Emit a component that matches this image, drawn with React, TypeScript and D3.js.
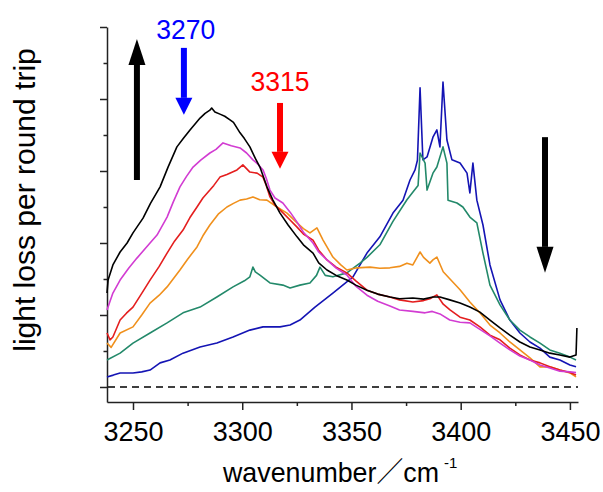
import * as d3 from "d3";
import { useEffect, useRef } from "react";

// wavenumber (cm-1), light loss (one unit = one y tick)
const black: [number, number][] = [
  [3238.1, 2.61], [3238.6, 2.97], [3240.8, 3.39], [3244.1, 3.75], [3247.3, 4.0], [3250, 4.28],
  [3254.6, 4.69], [3258, 5.1], [3262.4, 5.56], [3266, 6.1], [3270.1, 6.67], [3273, 6.9],
  [3276.1, 7.14], [3280.7, 7.47], [3283, 7.6], [3285.2, 7.69], [3286, 7.75], [3287.5, 7.64],
  [3289.8, 7.58], [3292, 7.52], [3294.4, 7.42], [3296, 7.35], [3299, 7.06], [3301, 6.9],
  [3303.5, 6.67], [3306, 6.35], [3308.1, 6.11], [3311.3, 5.56], [3314, 5.2], [3317.3, 4.83],
  [3321, 4.5], [3325.1, 4.17], [3328, 3.95], [3332.4, 3.72], [3335, 3.45], [3338.8, 3.25],
  [3343, 3.1], [3347.9, 2.97], [3352, 2.83], [3357.1, 2.69], [3362, 2.58], [3367.6, 2.5],
  [3372, 2.45], [3378.1, 2.47], [3383, 2.44], [3387.3, 2.5], [3390.5, 2.5], [3395, 2.42],
  [3399.7, 2.33], [3404.2, 2.22], [3408.8, 2.08], [3413.4, 1.86], [3418, 1.64], [3422.5, 1.44],
  [3427.1, 1.25], [3431.7, 1.11], [3436.3, 1.03], [3440.8, 0.94], [3445.4, 0.89], [3450, 0.83],
  [3452.8, 0.89], [3453.2, 1.64],
];

const magenta: [number, number][] = [
  [3238.1, 2.14], [3240.8, 2.61], [3244.1, 2.97], [3248, 3.3], [3251.8, 3.58], [3257.8, 4.0],
  [3261, 4.22], [3265.6, 4.72], [3268.5, 5.15], [3271.5, 5.56], [3274.5, 5.85], [3277.5, 6.11],
  [3281, 6.3], [3285.2, 6.5], [3288, 6.6], [3291.2, 6.78], [3295, 6.7], [3299, 6.64],
  [3302, 6.5], [3304.9, 6.31], [3307, 6.2], [3309.5, 6.03], [3311, 5.8], [3312.7, 5.47],
  [3315, 5.25], [3318.6, 5.11], [3322, 4.85], [3325.1, 4.58], [3328, 4.3], [3332.4, 4.0],
  [3335, 3.75], [3338.8, 3.53], [3343, 3.3], [3347.9, 3.11], [3352, 2.8], [3357.1, 2.55],
  [3362, 2.38], [3367.6, 2.25], [3372, 2.14], [3378.1, 2.1], [3383.7, 2.06], [3387, 2.1],
  [3390.5, 2.03], [3395, 1.86], [3399.7, 1.8], [3404.2, 1.78], [3408.8, 1.6], [3413.4, 1.42],
  [3418, 1.22], [3422.5, 1.03], [3427.1, 0.86], [3431.7, 0.75], [3436.3, 0.61], [3440.8, 0.53],
  [3445.4, 0.44], [3450, 0.42], [3452.8, 0.4],
];

const red: [number, number][] = [
  [3238.1, 1.5], [3239.5, 1.31], [3240.8, 1.39], [3244.1, 1.86], [3247, 2.05], [3250, 2.22],
  [3254, 2.6], [3257.8, 2.97], [3262, 3.35], [3265.6, 3.72], [3269, 4.05], [3272.9, 4.36],
  [3276, 4.7], [3279.3, 5.0], [3282, 5.25], [3285.2, 5.47], [3287, 5.6], [3289.8, 5.83],
  [3293, 5.9], [3297.6, 6.03], [3300.3, 6.17], [3303.5, 5.97], [3306.8, 5.94], [3309.5, 5.83],
  [3311, 5.6], [3312.7, 5.28], [3315, 5.05], [3317.3, 4.92], [3321.9, 4.64], [3325.1, 4.44],
  [3328, 4.25], [3332.4, 4.08], [3335, 3.8], [3338.8, 3.53], [3343, 3.33], [3347.9, 3.17],
  [3352, 2.95], [3357.1, 2.69], [3362, 2.58], [3367.6, 2.5], [3372, 2.42], [3378.1, 2.36],
  [3383, 2.4], [3385.9, 2.45], [3389.1, 2.56], [3392, 2.3], [3395.1, 2.14], [3399.7, 1.94],
  [3404.2, 1.86], [3408.8, 1.67], [3413.4, 1.44], [3418, 1.31], [3422.5, 1.08], [3427.1, 0.89],
  [3431.7, 0.75], [3436.3, 0.67], [3440.8, 0.56], [3445.4, 0.47], [3450, 0.4], [3452.8, 0.33],
];

const orange: [number, number][] = [
  [3238.1, 1.22], [3240, 1.1], [3244.1, 1.5], [3250, 1.67], [3254, 2.0], [3257.8, 2.33],
  [3262, 2.55], [3265.6, 2.78], [3271.5, 3.25], [3275, 3.55], [3279.3, 3.89], [3282, 4.2],
  [3285.2, 4.5], [3289, 4.8], [3293, 5.0], [3296, 5.1], [3299, 5.19], [3302, 5.22],
  [3304.9, 5.28], [3308, 5.2], [3311.3, 5.19], [3315.9, 5.0], [3320.5, 4.83], [3325.1, 4.56],
  [3328, 4.4], [3331, 4.28], [3334.2, 4.42], [3337, 4.08], [3341.5, 3.61], [3345, 3.4],
  [3347.9, 3.25], [3352.5, 3.31], [3358.5, 3.33], [3363, 3.3], [3367.6, 3.31], [3372, 3.35],
  [3375.4, 3.44], [3378.1, 3.39], [3381.4, 3.75], [3383, 3.6], [3385.9, 3.44], [3387.3, 3.53],
  [3389.1, 3.61], [3392, 3.2], [3395.1, 3.0], [3399.7, 2.7], [3404.2, 2.36], [3408.8, 2.06],
  [3413.4, 1.72], [3418, 1.5], [3422.5, 1.25], [3427.1, 1.03], [3431.7, 0.81], [3436.3, 0.56],
  [3440.8, 0.56], [3445.4, 0.47], [3450, 0.39], [3452.8, 0.28],
];

const green: [number, number][] = [
  [3238.1, 0.75], [3244.1, 0.94], [3250, 1.22], [3257.8, 1.5], [3265.6, 1.78], [3272.9, 2.06],
  [3280.7, 2.22], [3288.4, 2.5], [3295.8, 2.78], [3301, 2.95], [3303.5, 3.06], [3304.9, 3.33],
  [3306, 3.2], [3308.1, 3.11], [3312.7, 2.89], [3318.6, 2.83], [3321.9, 2.75], [3326.4, 2.83],
  [3331, 2.89], [3334, 3.1], [3335.6, 3.33], [3338, 3.1], [3341.5, 3.06], [3347.9, 3.17],
  [3353.9, 3.44], [3357.1, 3.6], [3363, 3.95], [3369, 4.6], [3375.4, 5.2], [3378.6, 5.45],
  [3380.5, 5.6], [3381.4, 6.5], [3383.7, 6.22], [3384.6, 5.47], [3387.3, 5.94], [3389.1, 6.11],
  [3391.9, 6.67], [3393.7, 6.22], [3394.2, 5.19], [3398.3, 5.11], [3401, 5.0], [3404.2, 4.72],
  [3407.4, 4.56], [3410.2, 3.72], [3413.4, 2.83], [3418, 2.28], [3422.5, 1.86], [3427.1, 1.58],
  [3431.7, 1.39], [3436.3, 1.22], [3440.8, 1.03], [3445.4, 0.94], [3450, 0.83], [3452.8, 0.75],
];

const blue: [number, number][] = [
  [3238.1, 0.28], [3241, 0.33], [3244.1, 0.39], [3250, 0.39], [3254, 0.42], [3257.8, 0.47],
  [3262.4, 0.67], [3266.9, 0.75], [3272.9, 0.94], [3280.7, 1.11], [3288.4, 1.22], [3295.8, 1.39],
  [3303.5, 1.58], [3309.5, 1.67], [3317.3, 1.67], [3321.9, 1.72], [3326.4, 1.86], [3333.3, 2.22],
  [3341.5, 2.61], [3350.7, 3.06], [3357.1, 3.72], [3363, 4.17], [3369, 4.83], [3373.6, 5.19],
  [3376.8, 5.75], [3379.1, 6.03], [3380.2, 6.3], [3381.4, 8.31], [3382.7, 6.31], [3384.6, 6.39],
  [3387.3, 6.94], [3389.1, 7.14], [3390.5, 6.67], [3391.9, 8.47], [3393.7, 6.86], [3396, 6.31],
  [3399.7, 6.22], [3402.9, 5.94], [3404.2, 5.39], [3405.6, 6.22], [3407.4, 5.19], [3410.2, 4.5],
  [3413.4, 3.39], [3418, 2.42], [3422.5, 1.86], [3427.1, 1.5], [3431.7, 1.25], [3436.3, 1.08],
  [3440.8, 0.83], [3445.4, 0.75], [3450, 0.61], [3452.8, 0.56],
];

const seriesData = [blue, green, orange, red, magenta, black];
const seriesColors = ["#1414b4", "#23896a", "#f0901c", "#e41e1e", "#d23cd2", "#000000"];

const xMajorTicks = [3250, 3300, 3350, 3400, 3450];
const xMinorTicks = [3275, 3325, 3375, 3425];
const yMajorTicks = [0, 2, 4, 6, 8, 10];
const yMinorTicks = [1, 3, 5, 7, 9];

// arrows: [wavenumber, tail value, tip value, colour, head length]
const arrows: [number, number, number, string, number][] = [
  [3251.8, 5.75, 9.67, "#000000", 26],
  [3438.6, 6.94, 3.17, "#000000", 26],
  [3273.3, 9.42, 7.56, "#0000ff", 17],
  [3317.3, 7.89, 6.06, "#ff0000", 17],
];
// labels: [text, wavenumber, value, colour]
const peakLabels: [string, number, number, string][] = [
  ["3270", 3274.2, 9.67, "#0000ff"],
  ["3315", 3317.3, 8.22, "#ff0000"],
];

export default function App() {
  const ref = useRef<SVGSVGElement>(null);

  useEffect(() => {
    const width = 603;
    const height = 492;
    const margin = { left: 107, right: 25, top: 27, bottom: 90 };
    const font = "'Liberation Sans', Arial, 'Noto Sans CJK JP', sans-serif";

    const x = d3.scaleLinear().domain([3238.1, 3453.7]).range([margin.left, width - margin.right]);
    const y = d3.scaleLinear().domain([-0.417, 10]).range([height - margin.bottom, margin.top]);

    const svg = d3.select(ref.current)
      .attr("width", width)
      .attr("height", height)
      .style("font-family", font);
    svg.selectAll("*").remove();

    // baseline
    svg.append("line")
      .attr("x1", x.range()[0] + 1).attr("x2", x.range()[1])
      .attr("y1", y(0)).attr("y2", y(0))
      .attr("stroke", "#000").attr("stroke-width", 1.5)
      .attr("stroke-dasharray", "7,5");

    // --- axes ---
    const xAxis = svg.append("g")
      .attr("transform", `translate(0,${y.range()[0]})`)
      .call(d3.axisBottom(x).tickValues(xMajorTicks).tickSize(8).tickSizeOuter(0).tickPadding(12)
        .tickFormat(d3.format("d")));
    svg.append("g")
      .attr("transform", `translate(0,${y.range()[0]})`)
      .call(d3.axisBottom(x).tickValues(xMinorTicks).tickSize(4).tickSizeOuter(0).tickFormat(() => ""))
      .select(".domain").remove();
    xAxis.selectAll("text").attr("font-size", 27).attr("fill", "#000").style("font-family", font);

    svg.append("g")
      .attr("transform", `translate(${x.range()[0]},0)`)
      .call(d3.axisLeft(y).tickValues(yMajorTicks).tickSize(7).tickSizeOuter(0).tickFormat(() => ""));
    svg.append("g")
      .attr("transform", `translate(${x.range()[0]},0)`)
      .call(d3.axisLeft(y).tickValues(yMinorTicks).tickSize(3.5).tickSizeOuter(0).tickFormat(() => ""))
      .select(".domain").remove();

    svg.selectAll(".domain, .tick line").attr("stroke", "#222").attr("stroke-width", 1.5);

    // --- spectra ---
    const line = d3.line<[number, number]>().x(d => x(d[0])).y(d => y(d[1]));
    svg.append("g")
      .selectAll("path")
      .data(seriesData)
      .join("path")
      .attr("d", d => line(d))
      .attr("fill", "none")
      .attr("stroke", (_, i) => seriesColors[i])
      .attr("stroke-width", 1.6)
      .attr("stroke-linejoin", "round");

    // --- arrows ---
    arrows.forEach(([wn, from, to, color, headLen]) => {
      const ax = x(wn);
      const y0 = y(from);
      const y1 = y(to);
      const dir = y1 < y0 ? -1 : 1;
      const base = y1 - dir * headLen;
      svg.append("line")
        .attr("x1", ax).attr("x2", ax)
        .attr("y1", y0).attr("y2", base)
        .attr("stroke", color).attr("stroke-width", 6);
      svg.append("path")
        .attr("d", `M${ax - 8.5},${base} L${ax + 8.5},${base} L${ax},${y1} Z`)
        .attr("fill", color);
    });

    svg.append("g")
      .selectAll("text")
      .data(peakLabels)
      .join("text")
      .attr("x", d => x(d[1]))
      .attr("y", d => y(d[2]))
      .attr("text-anchor", "middle")
      .attr("font-size", 28)
      .attr("textLength", 59)
      .attr("lengthAdjust", "spacingAndGlyphs")
      .attr("fill", d => d[3])
      .text(d => d[0]);

    // --- axis titles ---
    svg.append("text")
      .attr("transform", "translate(35,200) rotate(-90)")
      .attr("text-anchor", "middle")
      .attr("font-size", 30)
      .attr("fill", "#000")
      .text("light loss per round trip");

    const xTitle = svg.append("text")
      .attr("x", 223)
      .attr("y", 482)
      .attr("font-size", 28)
      .attr("fill", "#000");
    xTitle.append("tspan")
      .attr("textLength", 216)
      .attr("lengthAdjust", "spacingAndGlyphs")
      .text("wavenumber／cm");
    xTitle.append("tspan")
      .attr("dx", 5)
      .attr("dy", -14)
      .attr("font-size", 15)
      .text("-1");
  }, []);

  return (
    <div style={{ position: "absolute", left: 0, top: 0, background: "#fff" }}>
      <svg ref={ref}></svg>
    </div>
  );
}
